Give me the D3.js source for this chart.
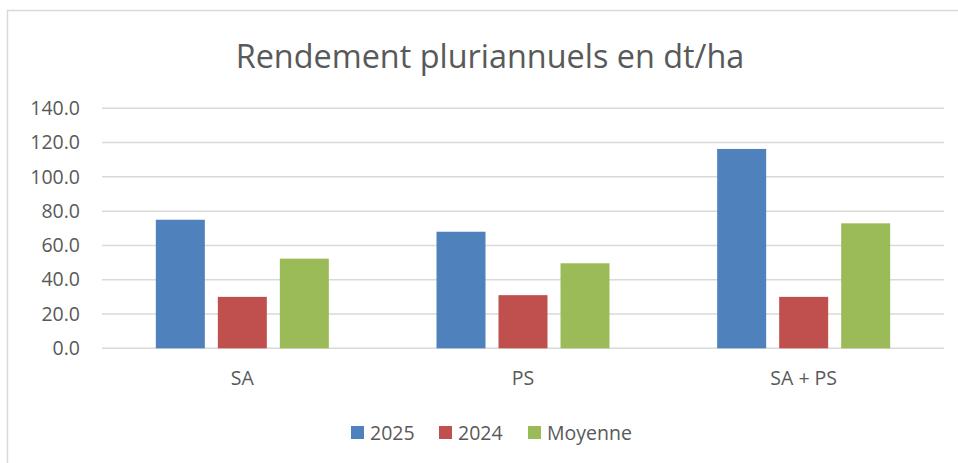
<!DOCTYPE html>
<html>
<head>
<meta charset="utf-8">
<script src="https://cdn.jsdelivr.net/npm/d3@7"></script>
<style>
  body { margin: 0; background: #fff; }
  text { font-family: "Open Sans", "Noto Sans", sans-serif; fill: #595959; }
</style>
</head>
<body>
<script>
const categories = ['SA', 'PS', 'SA + PS'];
const seriesNames = ['2025', '2024', 'Moyenne'];
const values2025 = [75.0, 68.0, 116.3];
const values2024 = [30.0, 31.0, 30.0];
const valuesMoyenne = [52.3, 49.6, 72.9];
const yTicks = [0, 20, 40, 60, 80, 100, 120, 140];
const colors = ['#4f81bd', '#c0504d', '#9bbb59'];

const allSeries = [values2025, values2024, valuesMoyenne];

const w = 958;
const h = 463;
const labelSize = '19.5px';
const svg = d3.select('body').append('svg').attr('width', w).attr('height', h);

// chart frame (only top and left edges visible)
svg.append('rect')
  .attr('x', 7.5).attr('y', 10.5)
  .attr('width', w).attr('height', h)
  .attr('fill', 'none').attr('stroke', '#d9d9d9').attr('stroke-width', 1.5);

// shrink or grow a text to a target width
function fit(sel, width) {
  sel.each(function () {
    const len = this.getComputedTextLength();
    const fs = parseFloat(d3.select(this).style('font-size'));
    d3.select(this).style('font-size', (fs * width / len) + 'px');
  });
}

svg.append('text')
  .attr('x', 490).attr('y', 68)
  .attr('text-anchor', 'middle')
  .style('font-size', '26px')
  .text('Rendement pluriannuels en dt/ha')
  .call(fit, 509);

const x = d3.scaleBand().domain(categories).range([102, 944]);
const y = d3.scaleLinear().domain([0, 140]).range([348.3, 108.3]);

// gridlines
svg.append('g')
  .selectAll('line')
  .data(yTicks)
  .enter()
  .append('line')
  .attr('x1', 102).attr('x2', 944)
  .attr('y1', d => y(d)).attr('y2', d => y(d))
  .attr('stroke', '#d9d9d9').attr('stroke-width', 1.5);

const yAxis = svg.append('g')
  .attr('transform', 'translate(80,0)')
  .call(d3.axisLeft(y).tickValues(yTicks).tickFormat(d3.format('.1f')).tickSize(0).tickPadding(0));
yAxis.select('.domain').remove();
yAxis.selectAll('text')
  .style('font-size', labelSize)
  .style('font-family', '"Open Sans", "Noto Sans", sans-serif')
  .attr('fill', '#595959');

const xAxis = svg.append('g')
  .attr('transform', 'translate(0,378)')
  .call(d3.axisBottom(x).tickSize(0).tickPadding(0));
xAxis.select('.domain').remove();
xAxis.selectAll('text')
  .attr('dy', '0.35em')
  .style('font-size', labelSize)
  .style('font-family', '"Open Sans", "Noto Sans", sans-serif')
  .attr('fill', '#595959');

// bars
const barW = 49;
const step = 62;
const inner = d3.scaleBand().domain(seriesNames).range([0, step * 3]);

allSeries.forEach((vals, si) => {
  svg.append('g')
    .selectAll('rect')
    .data(vals)
    .enter()
    .append('rect')
    .attr('x', (d, i) => x(categories[i]) + x.bandwidth() / 2 - (step * 3 - (step - barW)) / 2 + inner(seriesNames[si]))
    .attr('y', d => y(d))
    .attr('width', barW)
    .attr('height', d => y(0) - y(d))
    .attr('fill', colors[si]);
});

// legend
const legendX = [351, 439, 528];
const legend = svg.append('g');
seriesNames.forEach((name, i) => {
  legend.append('rect')
    .attr('x', legendX[i]).attr('y', 426)
    .attr('width', 13).attr('height', 13)
    .attr('fill', colors[i]);
  legend.append('text')
    .attr('x', legendX[i] + 19).attr('y', 433)
    .attr('dy', '0.35em')
    .style('font-size', labelSize)
    .text(name);
});
</script>
</body>
</html>
